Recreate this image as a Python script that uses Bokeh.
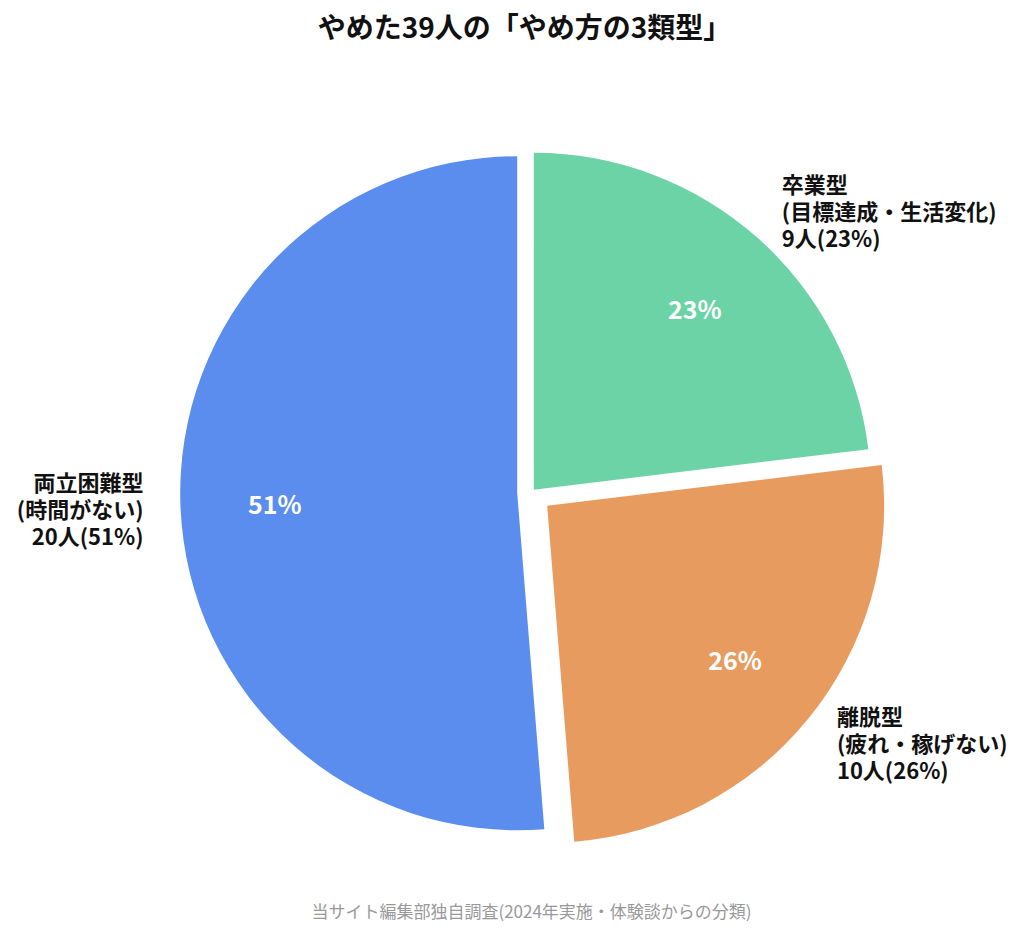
import numpy as np
from bokeh.plotting import figure
from bokeh.models import ColumnDataSource, Range1d
from bokeh.embed import file_html
from bokeh.resources import INLINE
from bokeh.core.properties import value

# ---- data ----
categories = ["卒業型", "離脱型", "両立困難型"]
subtitles = ["(目標達成・生活変化)", "(疲れ・稼げない)", "(時間がない)"]
counts = [9, 10, 20]
title_text = "やめた39人の「やめ方の3類型」"
source_note = "当サイト編集部独自調査(2024年実施・体験談からの分類)"

# ---- style ----
colors = ["#6CD3A7", "#E89B5F", "#5B8DEE"]
explode_px = [3.9, 20.6, 14.0]
FONT = "Noto Sans CJK JP"
W, H = 1008, 924
cx, cy = 530.7, 431.8
R = 337.0
inner_frac = 0.72
outer_frac = 1.11
line_gap = 27

total = sum(counts)
pct = [round(100 * c / total) for c in counts]
cum = np.cumsum([0] + counts) / total
th0 = cum[:-1] * 2 * np.pi
th1 = cum[1:] * 2 * np.pi
start = np.pi / 2 - th1
end = np.pi / 2 - th0
mid = np.pi / 2 - (th0 + th1) / 2
D = np.array(explode_px)
ax = cx + D * np.cos(mid)
ay = cy + D * np.sin(mid)

p = figure(width=W, height=H, x_range=Range1d(0, W), y_range=Range1d(0, H),
           output_backend="svg", toolbar_location=None, min_border=0)
p.axis.visible = False
p.grid.visible = False
p.outline_line_color = None
p.background_fill_color = "white"
p.border_fill_color = "white"

src = ColumnDataSource(dict(x=ax, y=ay, start=start, end=end, color=colors))
p.wedge(x="x", y="y", radius=R, start_angle="start", end_angle="end",
        direction="anticlock", fill_color="color", line_color=None, source=src)

# inner percentage labels
ix = ax + inner_frac * R * np.cos(mid)
iy = ay + inner_frac * R * np.sin(mid)
p.text(x=ix, y=iy, text=[f"{v}%" for v in pct], text_color="white",
       text_font=value(FONT), text_font_style="bold", text_font_size="25px",
       text_align="center", text_baseline="middle")

# outer labels
ox = ax + outer_frac * R * np.cos(mid)
oy = ay + outer_frac * R * np.sin(mid)
for i in range(len(counts)):
    align = "left" if np.cos(mid[i]) > 0 else "right"
    lines = [categories[i], subtitles[i], f"{counts[i]}人({pct[i]}%)"]
    p.text(x=[ox[i]] * 3, y=[oy[i]] * 3, text=lines,
           y_offset=[-line_gap, 0, line_gap],
           text_color="#111111", text_font=value(FONT), text_font_style="bold",
           text_font_size="22px", text_align=align, text_baseline="middle")

# title and source note
p.text(x=[524], y=[899], text=[title_text], text_color="#111111",
       text_font=value(FONT), text_font_style="bold", text_font_size="28px",
       text_align="center", text_baseline="middle")
p.text(x=[531], y=[14], text=[source_note], text_color="#999999",
       text_font=value(FONT), text_font_size="17px",
       text_align="center", text_baseline="middle")

open("out.html", "w").write(file_html(p, INLINE))
